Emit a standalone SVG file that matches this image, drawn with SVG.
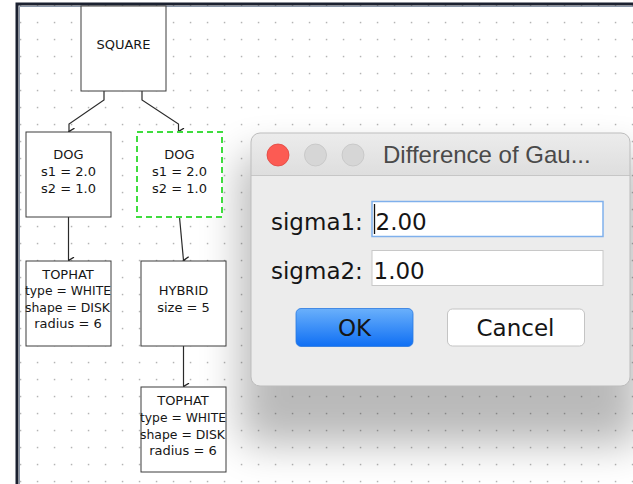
<svg xmlns="http://www.w3.org/2000/svg" width="633" height="484" viewBox="0 0 633 484">
  <defs>
    <pattern id="grid" patternUnits="userSpaceOnUse" x="12" y="14" width="17" height="17">
      <rect x="7.8" y="7.8" width="1.5" height="1.5" fill="#b4b4b4"/>
    </pattern>
    <marker id="arrow" viewBox="-4 -6 8 7" refX="0" refY="0" markerWidth="8" markerHeight="7" markerUnits="userSpaceOnUse" orient="auto-start-reverse">
      <path d="M-3.3,-5.5 L0,0 L3.3,-5.5" fill="none" stroke="#222" stroke-width="1.3"/>
    </marker>
    <filter id="shadow" x="-40%" y="-40%" width="180%" height="180%">
      <feGaussianBlur stdDeviation="20"/>
    </filter>
    <linearGradient id="titleGrad" x1="0" y1="0" x2="0" y2="1">
      <stop offset="0" stop-color="#ececec"/>
      <stop offset="1" stop-color="#dedede"/>
    </linearGradient>
    <linearGradient id="okGrad" x1="0" y1="0" x2="0" y2="1">
      <stop offset="0" stop-color="#6ab0fb"/>
      <stop offset="1" stop-color="#0f6ff4"/>
    </linearGradient>
    <clipPath id="dlgClip">
      <rect x="251" y="133" width="379" height="253" rx="9"/>
    </clipPath>
  </defs>
  <style>
    .node rect { fill: #ffffff; stroke: #3c3c3c; stroke-width: 1; }
    .node text { font-family: "DejaVu Sans", sans-serif; font-size: 13px; fill: #161616; text-anchor: middle; }
    .sel rect { stroke: #3fdc3f; stroke-width: 2; stroke-dasharray: 6 4; }
    .edge { fill: none; stroke: #2a2a2a; stroke-width: 1.2; marker-end: url(#arrow); }
    .dlg { font-family: "DejaVu Sans", sans-serif; font-size: 23px; fill: #151515; }
    .title { font-family: "Liberation Sans", Arial, sans-serif; font-size: 24px; fill: #4a4a4a; }
  </style>

  <!-- canvas -->
  <rect x="0" y="0" width="633" height="484" fill="#ffffff"/>
  <rect x="17" y="4" width="616" height="480" fill="url(#grid)"/>

  <!-- dialog drop shadow over the canvas -->
  <rect x="240" y="155" width="400" height="290" rx="14" fill="#000000" opacity="0.27" filter="url(#shadow)"/>

  <!-- window frame -->
  <path d="M17,484 V4 H633" fill="none" stroke="#1b2130" stroke-width="3"/>
  <path d="M19.5,484 V6.5 H633" fill="none" stroke="#8a96a8" stroke-width="1"/>

  <!-- connectors -->
  <g id="connectors">
    <path class="edge" d="M104,91 V100 L69,124 V131.5"/>
    <path class="edge" d="M142,91 V100 L178.5,124 V131.5"/>
    <path class="edge" d="M68.5,217 V260.5"/>
    <path class="edge" d="M179.5,217 L183.5,260.5"/>
    <path class="edge" d="M183.5,346 V386.5"/>
  </g>

  <!-- nodes -->
  <g id="square" class="node">
    <rect x="81" y="6" width="85" height="85"/>
    <text x="123.5" y="49">SQUARE</text>
  </g>
  <g id="dog1" class="node">
    <rect x="26" y="132" width="85" height="85"/>
    <text x="68.5" y="159">DOG</text>
    <text x="68.5" y="176">s1 = 2.0</text>
    <text x="68.5" y="192.5">s2 = 1.0</text>
  </g>
  <g id="dog2" class="node sel">
    <rect x="137" y="132" width="85" height="85"/>
    <text x="179.5" y="159">DOG</text>
    <text x="179.5" y="176">s1 = 2.0</text>
    <text x="179.5" y="192.5">s2 = 1.0</text>
  </g>
  <g id="tophat1" class="node">
    <rect x="26" y="261" width="85" height="85"/>
    <text x="68" y="278.5">TOPHAT</text>
    <text x="68" y="295" textLength="86" lengthAdjust="spacingAndGlyphs">type = WHITE</text>
    <text x="67.5" y="311.5" textLength="85" lengthAdjust="spacingAndGlyphs">shape = DISK</text>
    <text x="68" y="328">radius = 6</text>
  </g>
  <g id="hybrid" class="node">
    <rect x="141" y="261" width="85" height="85"/>
    <text x="183.5" y="295">HYBRID</text>
    <text x="183.5" y="311.5">size = 5</text>
  </g>
  <g id="tophat2" class="node">
    <rect x="141" y="387" width="85" height="85"/>
    <text x="183" y="405">TOPHAT</text>
    <text x="183" y="422" textLength="86" lengthAdjust="spacingAndGlyphs">type = WHITE</text>
    <text x="182.5" y="438.5" textLength="85" lengthAdjust="spacingAndGlyphs">shape = DISK</text>
    <text x="183" y="455">radius = 6</text>
  </g>

  <!-- parameter dialog -->
  <g id="dialog">
    <g clip-path="url(#dlgClip)">
      <rect x="251" y="133" width="379" height="253" fill="#ececec"/>
      <rect x="251" y="133" width="379" height="42" fill="url(#titleGrad)"/>
      <line x1="251" y1="175.5" x2="630" y2="175.5" stroke="#c6c6c6" stroke-width="1"/>
    </g>
    <rect x="251" y="133" width="379" height="253" rx="9" fill="none" stroke="#bdbdbd" stroke-width="1"/>

    <circle cx="278" cy="155" r="11" fill="#fc5b53" stroke="#e0443d" stroke-width="0.8"/>
    <circle cx="315.5" cy="155" r="11" fill="#d6d6d6" stroke="#c4c4c4" stroke-width="0.8"/>
    <circle cx="353" cy="155" r="11" fill="#d6d6d6" stroke="#c4c4c4" stroke-width="0.8"/>
    <text class="title" x="383" y="163">Difference of Gau...</text>

    <text class="dlg" x="271" y="230">sigma1:</text>
    <rect x="372" y="201.5" width="231" height="35" fill="#ffffff" stroke="#7fb0ec" stroke-width="1.5"/>
    <line x1="374.5" y1="204" x2="374.5" y2="234" stroke="#111" stroke-width="1.3"/>
    <text class="dlg" x="375.5" y="230">2.00</text>

    <text class="dlg" x="271" y="278.5">sigma2:</text>
    <rect x="372" y="250.5" width="231" height="35" fill="#ffffff" stroke="#c8c8c8" stroke-width="1"/>
    <text class="dlg" x="373.5" y="278.5">1.00</text>

    <rect x="296" y="308.5" width="117" height="38" rx="5" fill="url(#okGrad)" stroke="#2a78e0" stroke-width="0.8"/>
    <text class="dlg" x="354.5" y="336" text-anchor="middle">OK</text>

    <rect x="447.5" y="309" width="137" height="37" rx="5" fill="#ffffff" stroke="#c4c4c4" stroke-width="1"/>
    <text class="dlg" x="515.5" y="336" text-anchor="middle">Cancel</text>
  </g>
</svg>
